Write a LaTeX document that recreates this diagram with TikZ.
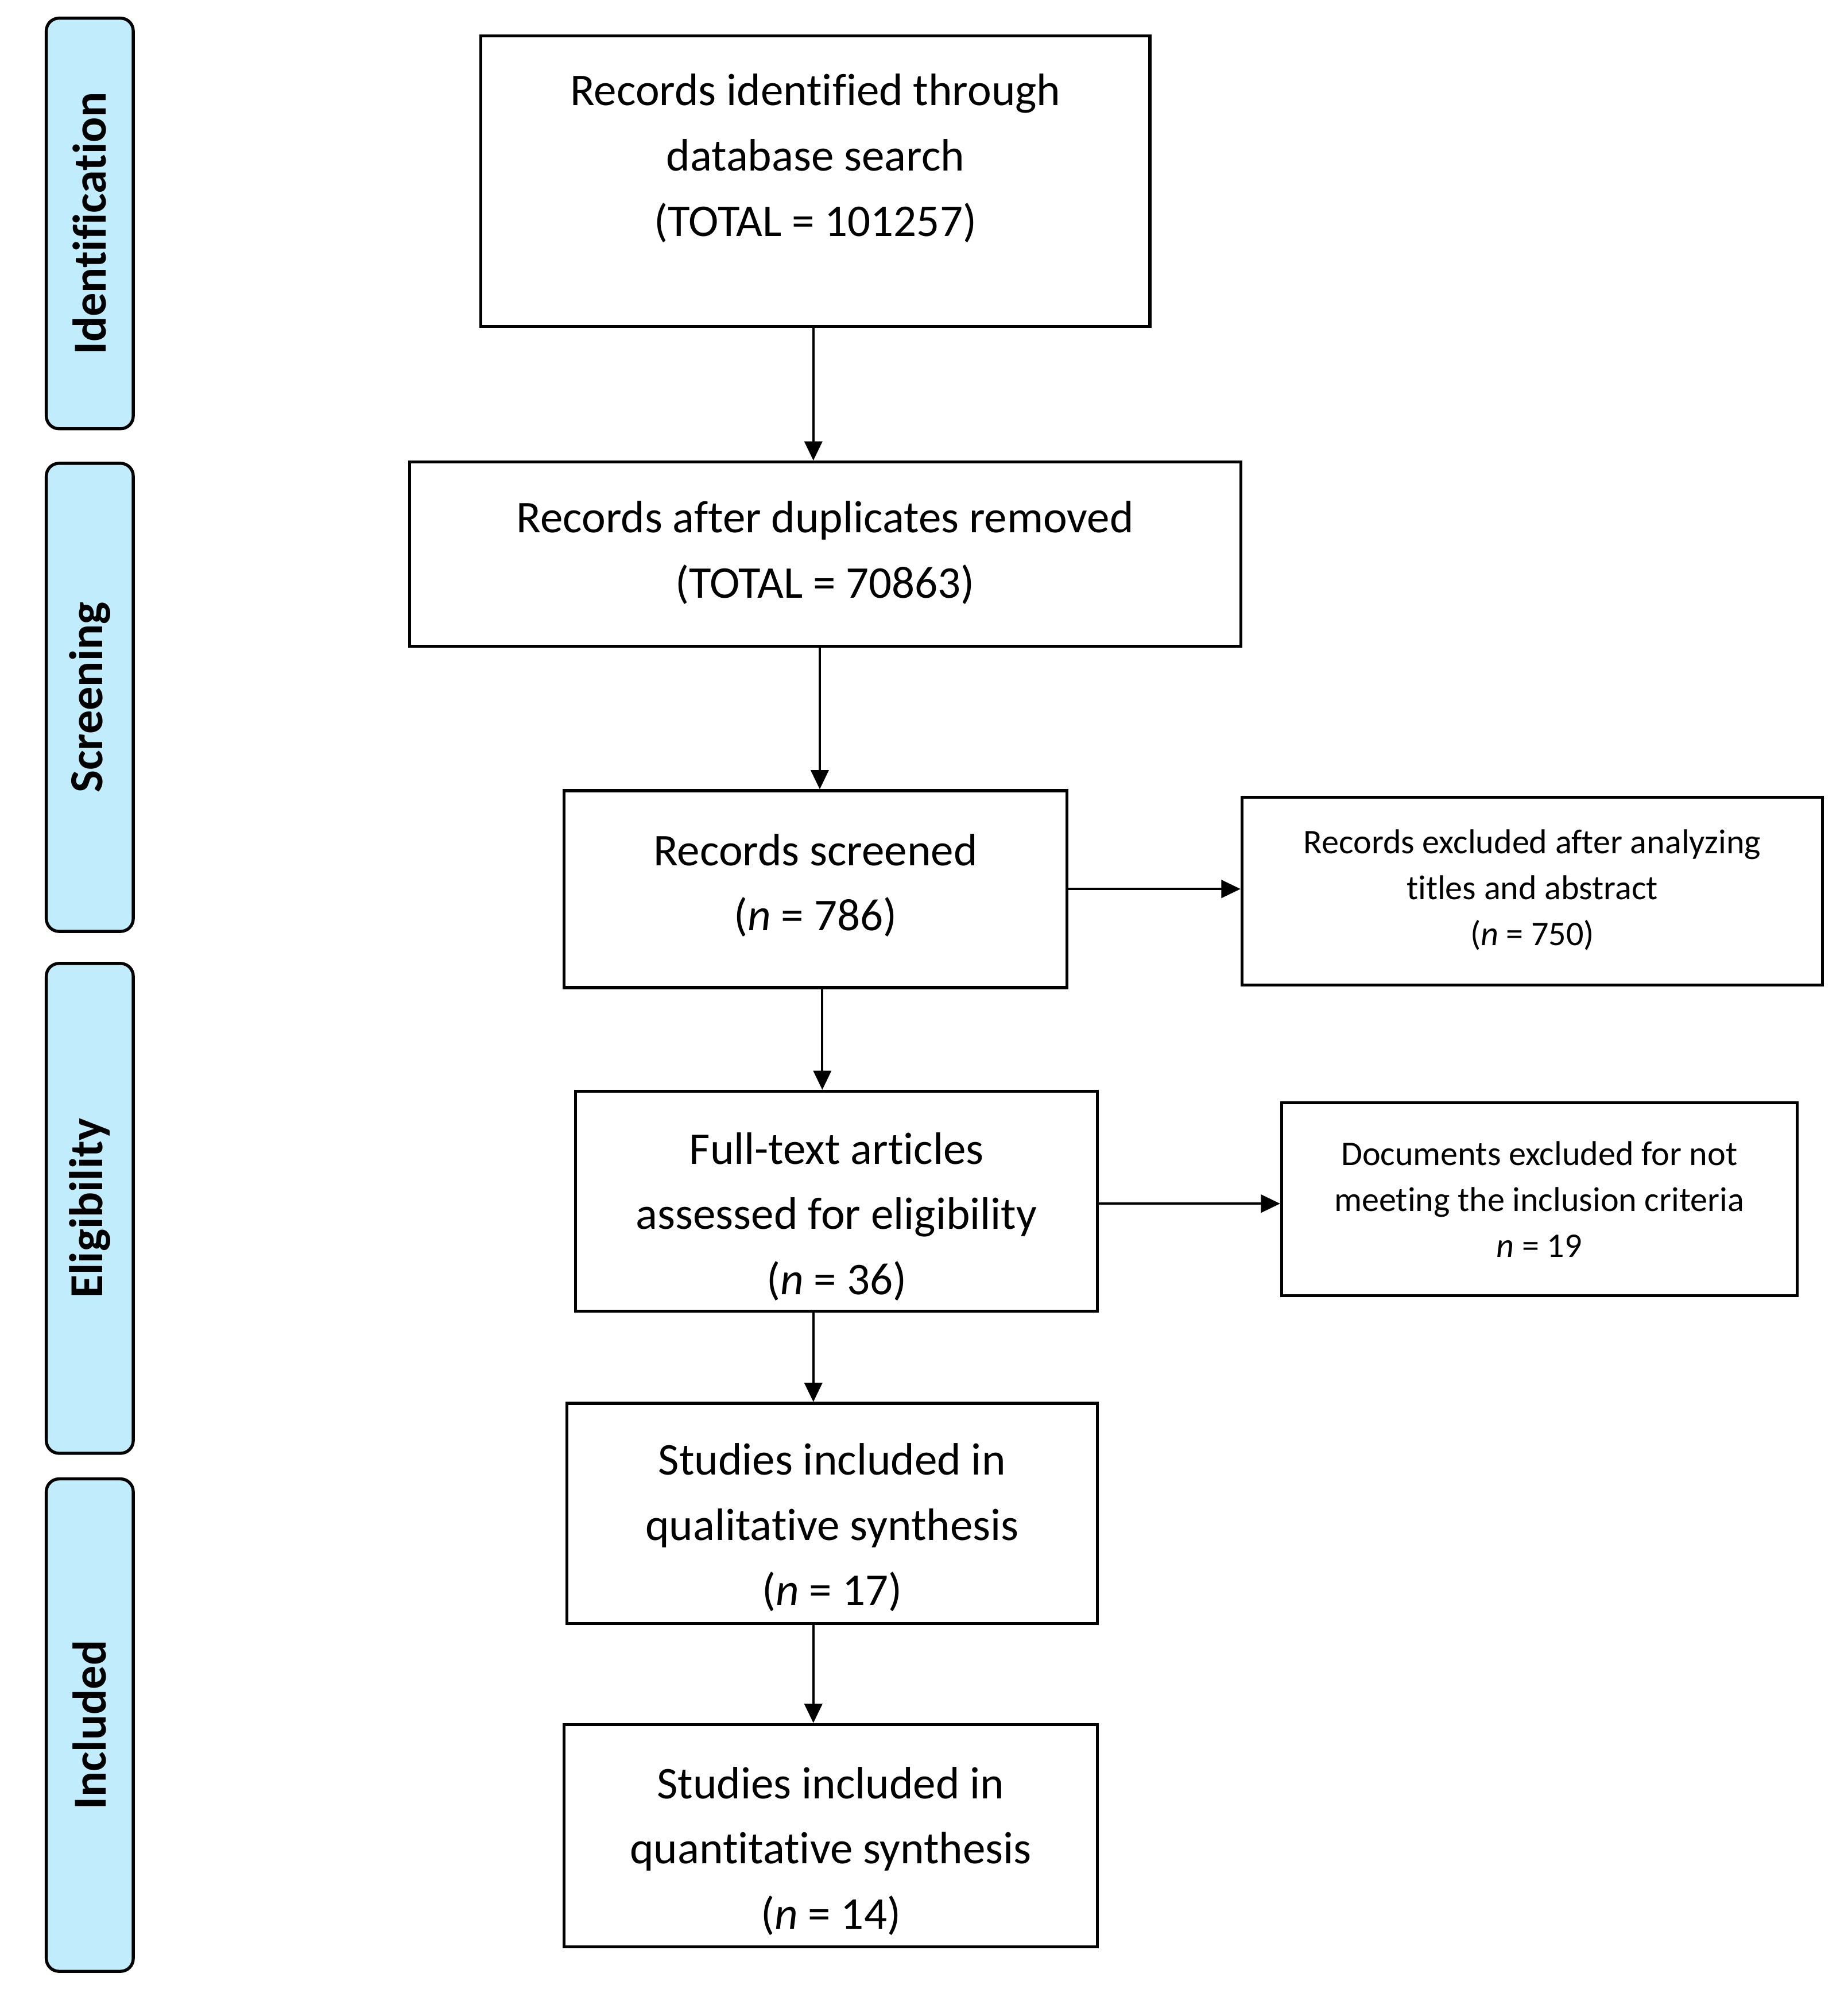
\documentclass[tikz,border=0pt]{standalone}
\usepackage{fontspec}
\setmainfont{Carlito}[Ligatures=NoCommon]
\usetikzlibrary{arrows.meta}
\definecolor{sidefill}{RGB}{192,236,251}
\begin{document}
\begin{tikzpicture}[x=1pt,y=-1pt,
 box/.style={draw=black, line width=2.3pt, anchor=north west, inner sep=0pt},
 side/.style={draw=black, line width=2.4pt, fill=sidefill, rounded corners=10pt, anchor=north west, inner sep=0pt, minimum width=68pt},
 big/.style={align=center, font=\fontsize{35.5}{51}\selectfont},
 small/.style={align=center, font=\fontsize{27}{36}\selectfont},
 sidetxt/.style={rotate=90, font=\fontsize{37}{40}\selectfont\bfseries},
 arr/.style={line width=1.7pt, -{Triangle[length=15pt,width=14pt]}},
]
\useasboundingbox (0,0) rectangle (1445,1573);
% side phase boxes
\node[side, minimum height=321pt, label={[sidetxt]center:Identification}] (s1) at (35,13) {};
\node[side, minimum height=366pt, label={[sidetxt]center:Screening}] (s2) at (35,361) {};
\node[side, minimum height=383pt, label={[sidetxt]center:Eligibility}] (s3) at (35,752) {};
\node[side, minimum height=385pt, label={[sidetxt]center:Included}] (s4) at (35,1155) {};
% main boxes
\node[box, minimum width=523pt, minimum height=227pt,
  label={[big,yshift=18pt]center:{Records identified through\\database search\\(TOTAL = 101257)}}] (b1) at (375,27) {};
\node[box, minimum width=650pt, minimum height=144pt,
  label={[big,yshift=1pt]center:{Records after duplicates removed\\(TOTAL = 70863)}}] (b2) at (319,360) {};
\node[box, minimum width=393pt, minimum height=154pt,
  label={[big,yshift=3pt]center:{Records screened\\(\textit{n} = 786)}}] (b3) at (440,617) {};
\node[box, minimum width=408pt, minimum height=172pt,
  label={[big,yshift=-12pt]center:{Full-text articles\\assessed for eligibility\\(\textit{n} = 36)}}] (b4) at (449,852) {};
\node[box, minimum width=415pt, minimum height=172pt,
  label={[big,yshift=-11pt]center:{Studies included in\\qualitative synthesis\\(\textit{n} = 17)}}] (b5) at (442,1096) {};
\node[box, minimum width=417pt, minimum height=174pt,
  label={[big,yshift=-12pt]center:{Studies included in\\quantitative synthesis\\(\textit{n} = 14)}}] (b6) at (440,1347) {};
\node[box, minimum width=454pt, minimum height=147pt,
  label={[small,yshift=1pt]center:{Records excluded after analyzing\\titles and abstract\\(\textit{n} = 750)}}] (b7) at (970,622) {};
\node[box, minimum width=403pt, minimum height=151pt,
  label={[small]center:{Documents excluded for not\\meeting the inclusion criteria\\\textit{n} = 19}}] (b8) at (1001,861) {};
% connector guides
\coordinate (x12) at (636,0);
\coordinate (x23) at (641,0);
\coordinate (x34) at (643,0);
\coordinate (x45) at (636,0);
\coordinate (x56) at (636,0);
\coordinate (y37) at (0,695);
\coordinate (y48) at (0,941);
% connectors
\draw[arr] (b1.south -| x12) -- (b2.north -| x12);
\draw[arr] (b2.south -| x23) -- (b3.north -| x23);
\draw[arr] (b3.south -| x34) -- (b4.north -| x34);
\draw[arr] (b4.south -| x45) -- (b5.north -| x45);
\draw[arr] (b5.south -| x56) -- (b6.north -| x56);
\draw[arr] (b3.east |- y37) -- (b7.west |- y37);
\draw[arr] (b4.east |- y48) -- (b8.west |- y48);
\end{tikzpicture}
\end{document}
